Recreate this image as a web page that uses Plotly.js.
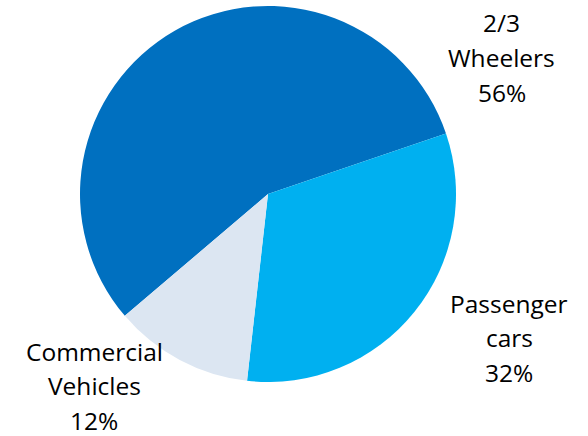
<!DOCTYPE html>
<html>
<head>
<meta charset="utf-8">
<script src="https://cdn.plot.ly/plotly-3.0.1.min.js"></script>
<style>html,body{margin:0;padding:0;background:#fff;}#chart{width:588px;height:436px;}</style>
</head>
<body>
<div id="chart"></div>
<script>
// Data
const categories = ["2/3 Wheelers", "Passenger cars", "Commercial Vehicles"];
const shares = [56, 32, 12];
const labelLines = [["2/3", "Wheelers"], ["Passenger", "cars"], ["Commercial", "Vehicles"]];
const sliceColors = ["#0070C0", "#00B0F0", "#DCE6F2"];

// Label block anchors (pixels: center x, first line center y)
const labelPos = [[502, 23], [509, 303], [94, 351]];
const lineStep = 34.5;
const W = 588, H = 436;

const annotations = [];
categories.forEach((c, i) => {
  const lines = labelLines[i].concat([shares[i] + "%"]);
  lines.forEach((t, j) => {
    annotations.push({
      text: t, showarrow: false,
      xref: "paper", yref: "paper",
      x: labelPos[i][0] / W, y: 1 - (labelPos[i][1] + j * lineStep) / H,
      xanchor: "center", yanchor: "middle",
      font: {family: "'Open Sans', sans-serif", size: 24.5, color: "#000"}
    });
  });
});

const trace = {
  type: "pie",
  labels: categories,
  values: shares,
  sort: false,
  direction: "clockwise",
  rotation: 229.6,
  marker: {colors: sliceColors, line: {color: "#ffffff", width: 0}},
  textinfo: "none",
  hoverinfo: "label+percent",
  domain: {x: [80 / W, 456 / W], y: [54 / H, 430 / H]},
  showlegend: false
};

const layout = {
  width: W, height: H,
  margin: {l: 0, r: 0, t: 0, b: 0},
  paper_bgcolor: "#ffffff",
  showlegend: false,
  annotations: annotations
};

Plotly.newPlot("chart", [trace], layout, {displayModeBar: false, staticPlot: true});
</script>
</body>
</html>
